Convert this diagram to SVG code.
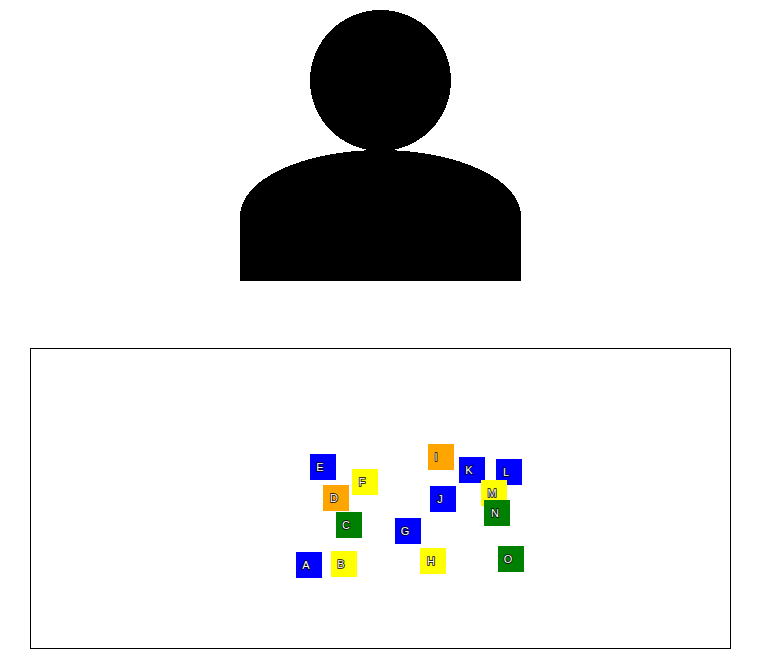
<svg xmlns="http://www.w3.org/2000/svg" width="760" height="658" viewBox="0 0 760 658">
<style>
.s{width:26px;height:26px}
.b{fill:#0000ff}.y{fill:#ffff00}.o{fill:#ffa500}.g{fill:#008000}
text{font-family:"Liberation Sans",Arial,sans-serif;font-size:11px;fill:#fff;stroke:#000;stroke-width:1.5px;paint-order:stroke;text-anchor:middle;font-weight:400}
.c{shape-rendering:crispEdges}
</style>
<rect width="760" height="658" fill="#fff"/>
<g id="person" class="c">
<circle cx="380.5" cy="80.5" r="70.5" fill="#000"/>
<path d="M240 281V216A140.500 66 0 0 1 521 216V281Z" fill="#000"/>
</g>
<rect id="frame" x="30.500" y="348.500" width="700" height="300" fill="none" stroke="#000" stroke-width="1"/>
<g id="connectors"></g>
<g id="A"><rect class="s b" x="296" y="552"/><text x="306" y="569">A</text></g>
<g id="B"><rect class="s y" x="331" y="551"/><text x="341" y="568">B</text></g>
<g id="C"><rect class="s g" x="336" y="512"/><text x="346" y="529">C</text></g>
<g id="D"><rect class="s o" x="323" y="485"/><text x="334" y="502">D</text></g>
<g id="E"><rect class="s b" x="310" y="454"/><text x="320" y="471">E</text></g>
<g id="F"><rect class="s y" x="352" y="469"/><text x="362" y="486">F</text></g>
<g id="G"><rect class="s b" x="395" y="518"/><text x="405" y="535">G</text></g>
<g id="H"><rect class="s y" x="420" y="548"/><text x="431" y="565">H</text></g>
<g id="I"><rect class="s o" x="428" y="444"/><text x="436" y="461">I</text></g>
<g id="J"><rect class="s b" x="430" y="486"/><text x="440" y="503">J</text></g>
<g id="K"><rect class="s b" x="459" y="457"/><text x="469" y="474">K</text></g>
<g id="L"><rect class="s b" x="496" y="459"/><text x="506" y="476">L</text></g>
<g id="M"><rect class="s y" x="481" y="480"/><text x="492" y="497">M</text></g>
<g id="N"><rect class="s g" x="484" y="500"/><text x="495" y="517">N</text></g>
<g id="O"><rect class="s g" x="498" y="546"/><text x="508" y="563">O</text></g>
</svg>
